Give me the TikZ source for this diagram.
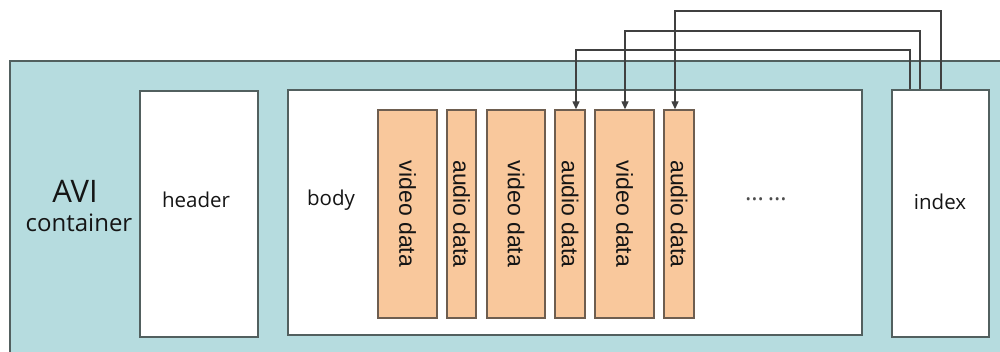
\documentclass[tikz,border=0pt]{standalone}
\usepackage{fontspec}
\setmainfont{Open Sans}
\newfontfamily\boxfont{Liberation Sans}
\usetikzlibrary{arrows.meta}
\definecolor{cont}{HTML}{B6DCDF}
\definecolor{edge}{HTML}{52605F}
\definecolor{chunk}{HTML}{F9C89C}
\definecolor{chunkedge}{HTML}{6E5E50}
\definecolor{txt}{HTML}{151515}
\tikzset{
  whitebox/.style={draw=edge, line width=1.6pt, fill=white, inner sep=0pt},
  chunkbox/.style={draw=chunkedge, line width=1.4pt, fill=chunk, inner sep=0pt, minimum height=208pt},
  chunktext/.style={rotate=-90, font=\boxfont\fontsize{23}{26}\selectfont, text=txt, inner sep=0pt},
  lbl/.style={font=\fontsize{20.5}{24}\selectfont, text=txt, inner sep=0pt},
  conn/.style={draw=black!75, line width=1.4pt, -{Triangle[length=8pt,width=7pt]}},
}
\begin{document}
\begin{tikzpicture}[x=1pt,y=-1pt]
\useasboundingbox (0,0) rectangle (1000,352);
\clip (0,0) rectangle (1000,352);
\fill[white] (0,0) rectangle (1000,352);
\node[draw=edge, line width=1.6pt, fill=cont, inner sep=0pt, minimum width=1010pt, minimum height=301pt] (avi) at (515,211.5) {};
\node[lbl, font=\fontsize{31}{34}\selectfont] (avit) at (75,191) {AVI};
\node[lbl, font=\fontsize{24}{26}\selectfont] (cont) at (79,223) {container};
\node[whitebox, minimum width=118pt, minimum height=246pt] (header) at (199,214) {};
\node[lbl] (headert) at (196,200) {header};
\node[whitebox, minimum width=574pt, minimum height=245pt] (body) at (575,212.5) {};
\node[lbl] (bodyt) at (331,200) {body};
\node[whitebox, minimum width=97pt, minimum height=247pt] (index) at (940.5,213.5) {};
\node[lbl] (indext) at (940,202) {index};
\node[chunkbox, minimum width=59pt] (v1) at (407.5,214) {};
\node[chunktext] (v1t) at (v1) {video data};
\node[chunkbox, minimum width=29pt] (a1) at (461.5,214) {};
\node[chunktext] (a1t) at (a1) {audio data};
\node[chunkbox, minimum width=58pt] (v2) at (516,214) {};
\node[chunktext] (v2t) at (v2) {video data};
\node[chunkbox, minimum width=30pt] (a2) at (570,214) {};
\node[chunktext] (a2t) at (a2) {audio data};
\node[chunkbox, minimum width=59pt] (v3) at (624.5,214) {};
\node[chunktext] (v3t) at (v3) {video data};
\node[chunkbox, minimum width=30pt] (a3) at (679,214) {};
\node[chunktext] (a3t) at (a3) {audio data};
\node[lbl, font=\fontsize{24}{26}\selectfont, text=black!70] (dots) at (766,199) {…\,…};
\draw[conn] ([xshift=-30.5pt]index.north) -- ++(0,-39) -| ([xshift=6pt]a2.north);
\draw[conn] ([xshift=-20.5pt]index.north) -- ++(0,-58) -| ([xshift=0.5pt]v3.north);
\draw[conn] ([xshift=0.5pt]index.north) -- ++(0,-78) -| ([xshift=-4pt]a3.north);
\end{tikzpicture}
\end{document}
